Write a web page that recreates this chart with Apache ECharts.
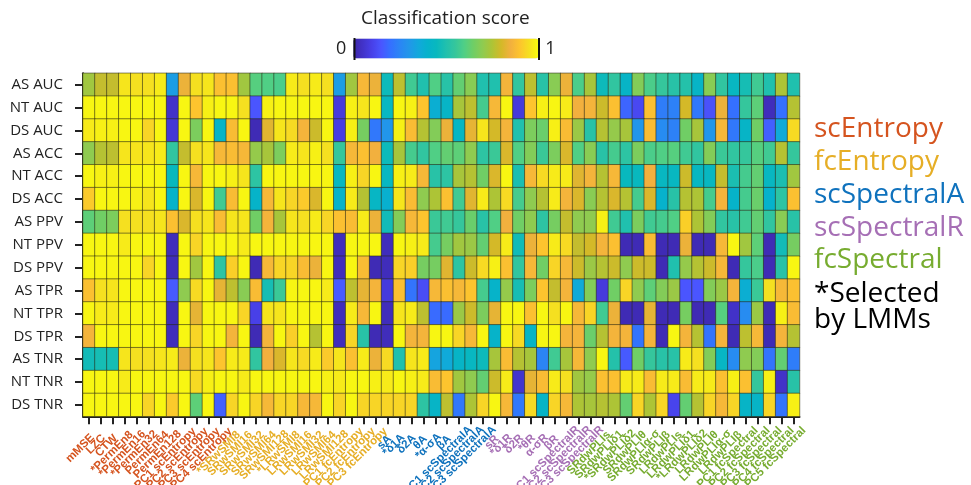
<!DOCTYPE html>
<html><head><meta charset="utf-8">
<style>html,body{margin:0;padding:0;background:#fff}#c{width:971px;height:485px}</style>
<script src="https://cdn.jsdelivr.net/npm/echarts@6/dist/echarts.min.js"></script></head>
<body><div id="c"></div>
<script>
const rowLabels = ['AS AUC','NT AUC','DS AUC','AS ACC','NT ACC','DS ACC','AS PPV','NT PPV','DS PPV','AS TPR','NT TPR','DS TPR','AS TNR','NT TNR','DS TNR'];

const scEntropyLabels = ['mMSE','LZC','CTW','*PermEn8','*PermEn16','*PermEn32','PermEn64','PermEn128','PC1 scEntropy','PC2 scEntropy','PC3 scEntropy','PC4 scEntropy'];
const fcEntropyLabels = ['*SRwSMI8','SRwSMI16','SRwSMI32','SRwSMI64','SRwSMI128','*LRwSMI8','LRwSMI16','LRwSMI32','LRwSMI64','LRwSMI128','PC1 fcEntropy','PC2 fcEntropy','PC3 fcEntropy'];
const scSpectralALabels = ['sA','*δ1A','δ2A','θA','*α-σA','βA','PC1 scSpectralA','PC2 scSpectralA','PC3 scSpectralA'];
const scSpectralRLabels = ['sR','*δ1R','δ2R','*θR','α-σR','βR','PC1 scSpectralR','PC2 scSpectralR','PC3 scSpectralR'];
const fcSpectralLabels = ['SRdwPLIs','SRdwPLIδ1','*SRdwPLIδ2','SRdwPLIθ','SRdwPLIα-σ','SRdwPLIβ','LRdwPLIs','LRdwPLIδ1','*LRdwPLIδ2','LRdwPLIθ','LRdwPLIα-σ','LRdwPLIβ','PC1 fcSpectral','PC2 fcSpectral','PC3 fcSpectral','PC4 fcSpectral','PC5 fcSpectral'];

const asAuc = [.73,.78,.78,.96,.95,.95,.97,.32,.84,.95,.96,.89,.89,.73,.61,.60,.59,.97,.95,.97,.95,.32,.73,.87,.84,.46,.77,.57,.50,.60,.52,.63,.69,.50,.50,.86,.54,.77,.52,.69,.84,.59,.74,.46,.54,.42,.68,.59,.55,.52,.51,.42,.69,.54,.44,.48,.57,.50,.75,.50];
const ntAuc = [.99,.99,.99,.99,.99,.99,.99,.05,.99,.90,.98,.99,.99,.95,.15,.98,.99,.99,.99,.99,.99,.08,.98,.96,.99,.44,.99,.98,.90,.38,.42,.74,.77,.58,.87,.99,.08,.90,.98,.99,.97,.85,.86,.79,.89,.18,.12,.89,.23,.24,.80,.22,.14,.84,.20,.55,.62,.03,.20,.76];
const dsAuc = [.97,.98,.98,.99,.99,.93,.99,.07,.99,.67,.99,.42,.88,.99,.02,.82,.96,.94,.86,.79,.99,.09,.98,.66,.22,.30,.98,.88,.76,.68,.84,.43,.83,.96,.80,.86,.50,.67,.64,.98,.88,.72,.52,.76,.71,.74,.30,.88,.27,.24,.65,.74,.30,.87,.22,.42,.65,.17,.36,.94];
const asAcc = [.70,.76,.77,.96,.96,.96,.97,.54,.78,.95,.96,.87,.88,.87,.71,.74,.67,.97,.96,.98,.95,.55,.87,.89,.85,.46,.74,.58,.54,.60,.63,.62,.70,.53,.56,.81,.60,.68,.56,.67,.81,.60,.69,.52,.58,.53,.67,.59,.60,.61,.57,.54,.68,.56,.54,.55,.61,.57,.76,.55];
const ntAcc = [.99,.98,.98,.99,.99,.99,.99,.45,.99,.87,.99,.99,.98,.96,.53,.99,.99,.99,.99,.99,.99,.44,.98,.93,.99,.44,.98,.97,.87,.52,.53,.74,.76,.65,.81,.99,.49,.87,.94,.97,.97,.82,.86,.76,.87,.45,.45,.85,.44,.44,.79,.44,.44,.78,.49,.58,.63,.44,.49,.73];
const dsAcc = [.91,.99,.99,.99,.98,.96,.99,.41,.99,.81,.99,.57,.88,.99,.41,.87,.96,.93,.91,.81,.99,.41,.97,.76,.43,.39,.96,.88,.70,.75,.89,.57,.82,.97,.75,.94,.58,.70,.76,.97,.86,.81,.69,.76,.81,.76,.58,.81,.40,.52,.76,.75,.58,.86,.41,.58,.64,.40,.53,.89];
const asPpv = [.62,.65,.67,.95,.95,.95,.96,.89,.81,.95,.96,.88,.96,.96,.65,.86,.74,.96,.95,.97,.93,.89,.88,.97,.84,.47,.68,.87,.90,.56,.57,.55,.64,.52,.60,.85,.65,.70,.53,.66,.78,.70,.70,.98,.57,.50,.67,.57,.58,.60,.92,.75,.68,.54,.52,.57,.63,.54,.69,.52];
const ntPpv = [.99,.99,.99,.97,.99,.99,.99,.03,.99,.93,.99,.99,.99,.97,.99,.99,.99,.99,.99,.99,.99,.03,.99,.99,.99,.03,.99,.98,.97,.58,.66,.73,.72,.63,.80,.97,.47,.84,.90,.97,.94,.78,.80,.86,.89,.02,.02,.88,.02,.02,.84,.02,.02,.87,.99,.73,.62,.02,.47,.66];
const dsPpv = [.99,.99,.99,.99,.99,.93,.99,.03,.99,.73,.99,.53,.92,.99,.02,.87,.93,.93,.88,.84,.99,.03,.99,.88,.02,.03,.93,.92,.66,.66,.82,.53,.79,.94,.98,.89,.54,.87,.65,.93,.87,.79,.72,.76,.79,.70,.79,.79,.02,.50,.71,.76,.79,.87,.02,.55,.59,.02,.52,.99];
const asTpr = [.89,.95,.96,.99,.99,.99,.99,.16,.70,.94,.99,.83,.77,.69,.88,.48,.56,.99,.99,.99,.97,.16,.77,.83,.86,.08,.89,.21,.13,.87,.89,.87,.90,.58,.41,.71,.48,.67,.90,.78,.86,.36,.68,.08,.65,.93,.70,.62,.68,.72,.15,.15,.68,.72,.86,.38,.56,.95,.87,.89];
const ntTpr = [.99,.97,.97,.99,.99,.99,.99,.03,.99,.83,.99,.99,.99,.93,.10,.96,.96,.99,.99,.99,.99,.03,.97,.87,.99,.03,.96,.97,.77,.19,.19,.72,.79,.67,.83,.99,.99,.89,.99,.95,.99,.87,.93,.57,.84,.02,.02,.83,.02,.02,.66,.02,.02,.61,.05,.27,.72,.02,.98,.88];
const dsTpr = [.86,.99,.99,.99,.99,.99,.99,.03,.99,.93,.99,.99,.86,.99,.02,.86,.99,.92,.99,.76,.99,.03,.93,.52,.02,.03,.99,.86,.86,.99,.99,.93,.87,.99,.41,.99,.94,.42,.99,.99,.86,.86,.64,.76,.86,.86,.21,.86,.02,.99,.86,.76,.21,.86,.02,.77,.87,.02,.86,.76];
const asTnr = [.47,.48,.48,.96,.95,.95,.96,.97,.84,.95,.96,.90,.97,.97,.54,.85,.81,.96,.94,.97,.91,.96,.89,.97,.84,.94,.50,.96,.97,.34,.36,.42,.44,.46,.74,.88,.76,.74,.25,.57,.74,.87,.70,.99,.51,.16,.65,.55,.52,.52,.97,.95,.68,.43,.27,.70,.68,.21,.63,.23];
const ntTnr = [.99,.99,.99,.97,.99,.99,.99,.99,.99,.94,.98,.99,.99,.97,.99,.99,.99,.99,.99,.99,.98,.97,.99,.99,.98,.97,.99,.98,.97,.88,.90,.73,.70,.63,.79,.97,.06,.83,.88,.97,.95,.73,.71,.89,.89,.97,.97,.88,.97,.97,.88,.97,.97,.89,.98,.89,.55,.98,.05,.52];
const dsTnr = [.99,.99,.99,.99,.99,.93,.99,.91,.99,.62,.99,.17,.93,.99,.93,.87,.93,.93,.87,.87,.99,.93,.99,.93,.93,.93,.93,.93,.53,.42,.77,.22,.75,.93,.99,.87,.22,.94,.42,.93,.87,.75,.74,.76,.75,.63,.93,.75,.93,.11,.63,.76,.93,.87,.93,.42,.42,.93,.21,.98];

const scoreRows = [asAuc,ntAuc,dsAuc,asAcc,ntAcc,dsAcc,asPpv,ntPpv,dsPpv,asTpr,ntTpr,dsTpr,asTnr,ntTnr,dsTnr];
const colormap = ['#3d26a8','#4232c8','#4840e8','#4a55ff','#3570ff','#2b85f5','#2296ea','#12a8dc','#06b2cc','#08b8be','#20c0ae','#35c69c','#50cf85','#70ce65','#8fcb50','#adc436','#d4b928','#f2b03e','#fdc42e','#f5e020','#f9fb0e'];

const groups = [
  [scEntropyLabels,'#d5541f','scEntropy'],
  [fcEntropyLabels,'#e6ae26','fcEntropy'],
  [scSpectralALabels,'#0f72bd','scSpectralA'],
  [scSpectralRLabels,'#a66fb5','scSpectralR'],
  [fcSpectralLabels,'#77ac30','fcSpectral']
];
const xData = [];
// the reference's long labels sit further up the 45-degree line than its short ones
groups.forEach(g => g[0].forEach(v => xData.push({
  value:v,
  textStyle:{color:g[1], padding:[0, -(3 + Math.max(0, v.length - 2)), 0, 0]}
})));
const cells = [];
scoreRows.forEach((r,y) => r.forEach((v,x) => cells.push([x,y,v])));

const FONT = '"Open Sans", "Noto Sans", sans-serif';
const legendY = [127,160,193,226,258];
const legendTexts = groups.map((g,i) => ({
  type:'text', left:814, top:legendY[i]-12,
  style:{text:g[2], fill:g[1], font:'28px '+FONT}
}));

const chart = echarts.init(document.getElementById('c'), null, {renderer:'canvas'});
chart.setOption({
  animation:false,
  backgroundColor:'#fff',
  grid:{left:83, top:73.3, width:716.5, height:343, outerBoundsMode:'none'},
  xAxis:{
    type:'category', data:xData, position:'bottom',
    splitArea:{show:false}, splitLine:{show:false},
    axisLine:{show:true, lineStyle:{color:'#222', width:2}},
    axisTick:{show:true, alignWithLabel:true, length:8, lineStyle:{color:'#222', width:2}},
    axisLabel:{interval:0, rotate:45, fontSize:11.5, fontWeight:'bold', fontFamily:'"Liberation Sans", Arial, sans-serif', margin:23}
  },
  yAxis:{
    type:'category', data:rowLabels, inverse:true,
    splitArea:{show:false}, splitLine:{show:false},
    axisLine:{show:true, lineStyle:{color:'#222', width:2}},
    axisTick:{show:true, alignWithLabel:true, length:8, lineStyle:{color:'#222', width:2}},
    axisLabel:{interval:0, fontSize:15, color:'#222', fontFamily:FONT, margin:20}
  },
  visualMap:{
    type:'continuous', min:0, max:1, seriesIndex:0, dimension:2, calculable:false,
    orient:'horizontal', left:321, top:23.5, itemWidth:20, itemHeight:185,
    text:['1','0'], textGap:7, textStyle:{fontSize:18, color:'#222', fontFamily:FONT},
    inRange:{color:colormap}
  },
  series:[{
    type:'heatmap', data:cells, progressive:0,
    itemStyle:{borderColor:'rgba(40,40,20,0.55)', borderWidth:1},
    emphasis:{disabled:true}
  }],
  graphic:[
    {type:'text', left:361, top:9, style:{text:'Classification score', fill:'#222', font:'19px '+FONT}},
    {type:'rect', left:353.5, top:38, shape:{width:2, height:22}, style:{fill:'#111'}, z:100},
    {type:'rect', left:538, top:38, shape:{width:2, height:22}, style:{fill:'#111'}, z:100},
    ...legendTexts,
    {type:'text', left:814, top:280, style:{text:'*Selected', fill:'#000', font:'28px '+FONT}},
    {type:'text', left:814, top:306, style:{text:'by LMMs', fill:'#000', font:'28px '+FONT}}
  ]
});
</script></body></html>
